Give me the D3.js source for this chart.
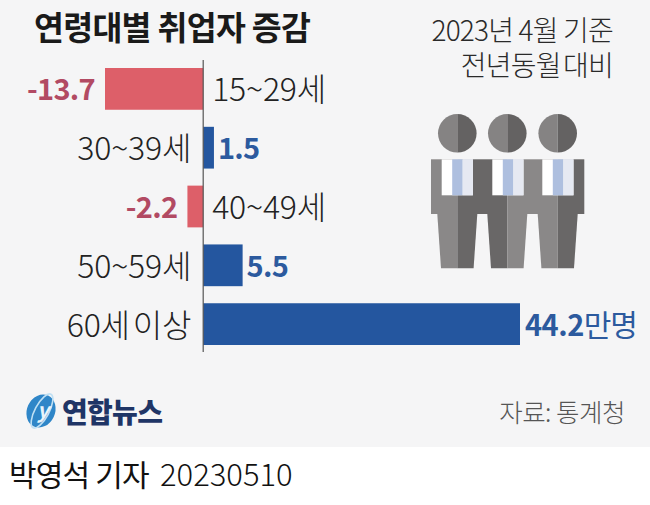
<!DOCTYPE html>
<html><head><meta charset="utf-8">
<script src="https://cdn.jsdelivr.net/npm/d3@7/dist/d3.min.js"></script>
<style>html,body{margin:0;padding:0;background:#fff}svg{display:block}text{font-family:"Noto Sans CJK KR","Noto Sans",sans-serif}</style>
</head><body><svg id="c" width="650" height="505"></svg>
<script>
const categories=["15~29세","30~39세","40~49세","50~59세","60세 이상"];
const values=[-13.7,1.5,-2.2,5.5,44.2];
const valueLabels=["-13.7","1.5","-2.2","5.5","44.2"];
const svg=d3.select("#c");
svg.append("rect").attr("width",650).attr("height",447).attr("fill","#f5f5f6");
const x=d3.scaleLinear().domain([-13.7,44.2]).range([105,520]);
const y=d3.scaleBand().domain(categories).range([68,345]).paddingInner(0.29).paddingOuter(0);
const RED="#dd5f69",BLUE="#24569f",REDT="#b24a63",BLUET="#2c5a9e";
svg.selectAll("rect.bar").data(values).join("rect").attr("class","bar")
 .attr("x",d=>x(Math.min(0,d))).attr("width",d=>Math.abs(x(d)-x(0)))
 .attr("y",(d,i)=>y(categories[i])).attr("height",y.bandwidth())
 .attr("fill",d=>d<0?RED:BLUE);
svg.append("line").attr("x1",x(0)).attr("x2",x(0)).attr("y1",60).attr("y2",352).attr("stroke","#555").attr("stroke-width",1.2);
const cy=i=>y(categories[i])+y.bandwidth()/2;
svg.selectAll("text.val").data(values.slice(0,4)).join("text").attr("class","val")
 .attr("x",d=>d<0?x(d)-10:x(d)+4).attr("y",(d,i)=>cy(i)+1)
 .attr("dy","0.36em").attr("text-anchor",d=>d<0?"end":"start")
 .attr("font-size",29).attr("font-weight",700).attr("letter-spacing",-0.7)
 .attr("fill",d=>d<0?REDT:BLUET).text((d,i)=>valueLabels[i]);
svg.selectAll("text.cat").data(values).join("text").attr("class","cat")
 .attr("x",d=>d<0?x(0)+9:x(0)-12).attr("y",(d,i)=>cy(i)+1)
 .attr("dy","0.36em").attr("text-anchor",d=>d<0?"start":"end")
 .attr("font-size",32).attr("font-weight",300).attr("letter-spacing",-0.2).attr("word-spacing",-4)
 .attr("fill","#222").text((d,i)=>categories[i]);
svg.append("text").attr("x",525).attr("y",cy(4)+1).attr("dy","0.36em").attr("font-size",29).attr("font-weight",700).attr("letter-spacing",-0.5).attr("fill",BLUET)
 .text(valueLabels[4]).append("tspan").attr("font-size",30).attr("font-weight",400).attr("letter-spacing",-1).text("만명");
svg.append("text").attr("x",34).attr("y",40).attr("font-size",32.5).attr("font-weight",700).attr("letter-spacing",-0.7).attr("fill","#1a1a1a").text("연령대별 취업자 증감");
svg.append("text").attr("x",613).attr("y",41).attr("text-anchor","end").attr("font-size",28).attr("font-weight",300).attr("letter-spacing",-0.8).attr("fill","#2a2a2a").text("2023년 4월 기준");
svg.append("text").attr("x",613).attr("y",76).attr("text-anchor","end").attr("font-size",28).attr("font-weight",300).attr("letter-spacing",-0.8).attr("word-spacing",-3).attr("fill","#2a2a2a").text("전년동월 대비");
// people icon
const L="#8a8888",D="#696767";
const ic=svg.append("g");
const rect=(a,b,c,d,f)=>ic.append("rect").attr("x",a).attr("y",b).attr("width",c-a).attr("height",d-b).attr("fill",f);
const poly=(p,f)=>ic.append("polygon").attr("points",p.map(q=>q.join(",")).join(" ")).attr("fill",f);
[[457.3,L,D],[507.3,D,L],[557.7,L,D]].forEach(([c,a,b])=>{
 poly([[c-20,214],[c,214],[c,268.3],[c-16.3,268.3]],a);
 poly([[c,214],[c+20,214],[c+16.3,268.3],[c,268.3]],b);
 ic.append("path").attr("d",`M${c},114 A19.3,19.3 0 0 0 ${c},152.6 Z`).attr("fill","#858383");
 ic.append("path").attr("d",`M${c},114 A19.3,19.3 0 0 1 ${c},152.6 Z`).attr("fill","#646262");
});
rect(431,159.3,457.3,214,L);rect(457.3,159.3,507.3,214,D);rect(507.3,159.3,557.7,214,L);rect(557.7,159.3,584.3,214,D);
[441.7,492.3,542.3].forEach((s,i)=>{
 rect(s,159.3,s+31.2,195.3,"#ffffff");
 rect(s+20.8,159.3,s+31.2,195.3,"#e6e9f2");
 rect(s+10.5,159.3,s+20.8,195.3,"#aebfdf");
});
// logo
const lg=svg.append("g");
lg.append("ellipse").attr("cx",41).attr("cy",411).attr("rx",14).attr("ry",17).attr("transform","rotate(25 41 411)").attr("fill","#2f86c8");
lg.append("ellipse").attr("cx",42).attr("cy",411).attr("rx",7).attr("ry",19).attr("transform","rotate(28 42 411)").attr("fill","none").attr("stroke","#bfe0f4").attr("stroke-width",1.6);
lg.append("text").attr("x",43).attr("y",418).attr("text-anchor","middle").attr("font-size",21).attr("font-style","italic").attr("font-weight",700).attr("fill","#e8f4fb").text("y");
svg.append("text").attr("x",62).attr("y",423).attr("font-size",28).attr("font-weight",900).attr("letter-spacing",-0.7).attr("fill","#1f3566").text("연합뉴스");
svg.append("text").attr("x",625).attr("y",422).attr("text-anchor","end").attr("font-size",25.5).attr("font-weight",300).attr("letter-spacing",-0.5).attr("fill","#555").text("자료: 통계청");
svg.append("text").attr("x",9).attr("y",486).attr("font-size",30).attr("font-weight",400).attr("letter-spacing",-0.8).attr("fill","#111").text("박영석 기자");
svg.append("text").attr("x",160).attr("y",486).attr("font-size",31).attr("font-weight",300).attr("fill","#111").text("20230510");
</script></body></html>
